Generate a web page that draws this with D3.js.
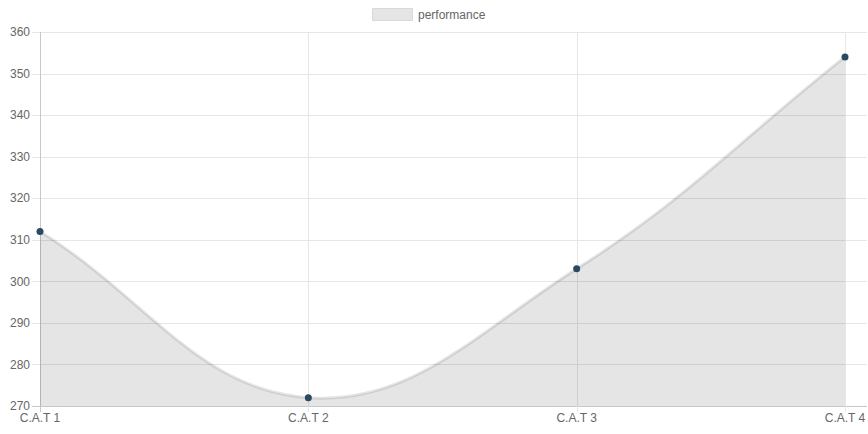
<!DOCTYPE html>
<html><head><meta charset="utf-8">
<script src="https://cdn.jsdelivr.net/npm/d3@7"></script>
<style>body{margin:0;background:#fff}svg{display:block}</style>
</head><body>
<script>
const categories = ["C.A.T 1", "C.A.T 2", "C.A.T 3", "C.A.T 4"];
const performance = [312, 272, 303, 354];
const yTicks = [270, 280, 290, 300, 310, 320, 330, 340, 350, 360];
const seriesName = "performance";

(function () {
const W = 868, H = 434;
const mLeft = 40, mRight = 845, mTop = 32, mBottom = 406;
const svg = d3.select("body").append("svg").attr("width", W).attr("height", H);
const font = "Liberation Sans, Arial, Helvetica, sans-serif";

const x = d3.scalePoint().domain(categories).range([mLeft, mRight]);
const y = d3.scaleLinear().domain([270, 360]).range([mBottom, mTop]);

// horizontal grid
svg.append("g").selectAll("line").data(yTicks).join("line")
  .attr("x1", mLeft - 8).attr("x2", 867)
  .attr("y1", d => Math.round(y(d)) + 0.5).attr("y2", d => Math.round(y(d)) + 0.5)
  .attr("stroke", d => d === 270 ? "#c8c8c8" : "#e6e6e6").attr("stroke-width", 1);
// vertical grid
svg.append("g").selectAll("line").data(categories).join("line")
  .attr("x1", d => Math.round(x(d)) + 0.5).attr("x2", d => Math.round(x(d)) + 0.5)
  .attr("y1", mTop).attr("y2", mBottom + 6)
  .attr("stroke", (d, i) => i === 0 ? "#c8c8c8" : "#e6e6e6").attr("stroke-width", 1);

// y labels
svg.append("g").selectAll("text").data(yTicks).join("text")
  .attr("x", 30).attr("y", d => y(d)).attr("dy", "0.35em")
  .attr("text-anchor", "end").attr("font-family", font).attr("font-size", 12)
  .attr("fill", "#666").text(d => d);
// x labels
svg.append("g").selectAll("text").data(categories).join("text")
  .attr("x", d => x(d)).attr("y", 418).attr("dy", "0.35em")
  .attr("text-anchor", "middle").attr("font-family", font).attr("font-size", 12)
  .attr("fill", "#666").text(d => d);

// Chart.js style bezier (tension 0.4)
const pts = performance.map((v, i) => ({ x: x(categories[i]), y: y(v) }));
const t = 0.4;
pts.forEach((p, i) => {
  const prev = pts[i - 1] || p, next = pts[i + 1] || p;
  const d01 = Math.hypot(p.x - prev.x, p.y - prev.y);
  const d12 = Math.hypot(next.x - p.x, next.y - p.y);
  let s01 = d01 / (d01 + d12), s12 = d12 / (d01 + d12);
  if (isNaN(s01)) s01 = 0; if (isNaN(s12)) s12 = 0;
  const fa = t * s01, fb = t * s12;
  p.cpPrev = { x: p.x - fa * (next.x - prev.x), y: p.y - fa * (next.y - prev.y) };
  p.cpNext = { x: p.x + fb * (next.x - prev.x), y: p.y + fb * (next.y - prev.y) };
  const clampY = v => Math.max(mTop, Math.min(mBottom, v));
  const clampX = v => Math.max(mLeft, Math.min(mRight, v));
  p.cpPrev.x = clampX(p.cpPrev.x); p.cpPrev.y = clampY(p.cpPrev.y);
  p.cpNext.x = clampX(p.cpNext.x); p.cpNext.y = clampY(p.cpNext.y);
});
function curve(path) {
  path.moveTo(pts[0].x, pts[0].y);
  for (let i = 1; i < pts.length; i++) {
    const a = pts[i - 1], b = pts[i];
    path.bezierCurveTo(a.cpNext.x, a.cpNext.y, b.cpPrev.x, b.cpPrev.y, b.x, b.y);
  }
  return path;
}
const areaPath = curve(d3.path());
areaPath.lineTo(pts[pts.length - 1].x, mBottom);
areaPath.lineTo(pts[0].x, mBottom);
areaPath.closePath();
svg.append("path").attr("d", areaPath.toString()).attr("fill", "rgba(0,0,0,0.1)");
svg.append("path").attr("d", curve(d3.path()).toString())
  .attr("fill", "none").attr("stroke", "rgba(0,0,0,0.1)").attr("stroke-width", 3);

svg.append("g").selectAll("circle").data(pts).join("circle")
  .attr("cx", d => d.x).attr("cy", d => d.y).attr("r", 3.5)
  .attr("fill", "#2a4a60");

// legend
svg.append("rect").attr("x", 372.5).attr("y", 8.5).attr("width", 40).attr("height", 12)
  .attr("fill", "rgba(0,0,0,0.1)").attr("stroke", "rgba(0,0,0,0.1)").attr("stroke-width", 1);
svg.append("text").attr("x", 418).attr("y", 14.5).attr("dy", "0.35em")
  .attr("font-family", font).attr("font-size", 12).attr("fill", "#666").text(seriesName);
})();
</script>
</body></html>
